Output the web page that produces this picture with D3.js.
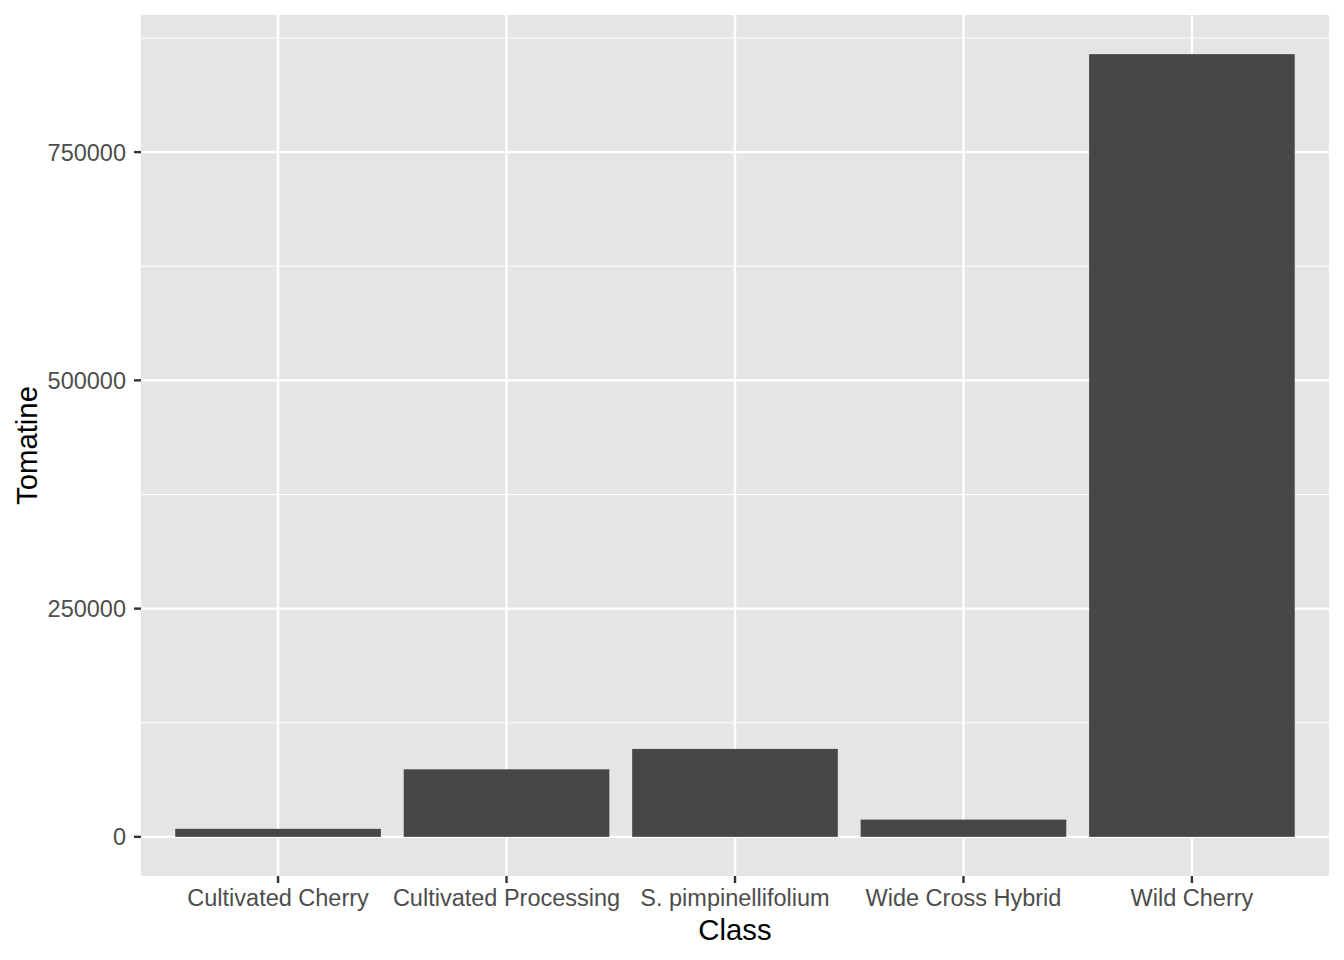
<!DOCTYPE html>
<html><head><meta charset="utf-8">
<script src="https://cdn.jsdelivr.net/npm/d3@7"></script>
<style>body{margin:0;background:#fff;} text{font-family:"Liberation Sans",Arial,Helvetica,sans-serif;}</style>
</head><body><svg id="c" width="1344" height="960"></svg>
<script>
const categories = ["Cultivated Cherry","Cultivated Processing","S. pimpinellifolium","Wide Cross Hybrid","Wild Cherry"];
const tomatine = [8760, 74000, 96300, 18900, 857300];
const yTicks = [0, 250000, 500000, 750000];
const yMinor = [125000, 375000, 625000, 875000];
const xTitle = "Class", yTitle = "Tomatine";

const svg = d3.select("#c");
const L = 141, R = 1329, T = 15, B = 876;
const yMax = d3.max(tomatine), pad = yMax * 0.05;
const y = d3.scaleLinear().domain([-pad, yMax + pad]).range([B, T]);
// discrete scale with ggplot-style expansion of 0.6 units on each side
const step = (R - L) / (categories.length - 1 + 1.2);
const xPos = d3.scalePoint().domain(categories).range([L + 0.6*step, R - 0.6*step]);
const bw = 0.9*step;

svg.append("rect").attr("x",L).attr("y",T).attr("width",R-L).attr("height",B-T).attr("fill","#E5E5E5");
const g = svg.append("g");
g.selectAll(".ymin").data(yMinor).join("line").attr("x1",L).attr("x2",R)
  .attr("y1",d=>y(d)).attr("y2",d=>y(d)).attr("stroke","#fff").attr("stroke-width",1.2);
g.selectAll(".ymaj").data(yTicks).join("line").attr("x1",L).attr("x2",R)
  .attr("y1",d=>y(d)).attr("y2",d=>y(d)).attr("stroke","#fff").attr("stroke-width",2.4);
g.selectAll(".xmaj").data(categories).join("line").attr("y1",T).attr("y2",B)
  .attr("x1",d=>xPos(d)).attr("x2",d=>xPos(d)).attr("stroke","#fff").attr("stroke-width",2.4);

svg.selectAll(".bar").data(categories).join("rect")
  .attr("x",d=>xPos(d)-bw/2).attr("width",bw)
  .attr("y",(d,i)=>y(tomatine[i])).attr("height",(d,i)=>y(0)-y(tomatine[i]))
  .attr("fill","#474747");

// y axis
const ya = svg.append("g");
ya.selectAll("line").data(yTicks).join("line").attr("x1",L-7).attr("x2",L)
  .attr("y1",d=>y(d)).attr("y2",d=>y(d)).attr("stroke","#333").attr("stroke-width",2.4);
ya.selectAll("text").data(yTicks).join("text").attr("x",L-15).attr("y",d=>y(d)).attr("dy","0.36em")
  .attr("text-anchor","end").attr("font-size",23.5).attr("fill","#4D4D4D").text(d=>d);
// x axis
const xa = svg.append("g");
xa.selectAll("line").data(categories).join("line").attr("x1",d=>xPos(d)).attr("x2",d=>xPos(d))
  .attr("y1",B).attr("y2",B+7).attr("stroke","#333").attr("stroke-width",2.4);
xa.selectAll("text").data(categories).join("text").attr("x",d=>xPos(d)).attr("y",906)
  .attr("text-anchor","middle").attr("font-size",23.5).attr("fill","#4D4D4D").text(d=>d);

svg.append("text").attr("x",(L+R)/2).attr("y",940).attr("text-anchor","middle")
  .attr("font-size",29.3).attr("fill","#000").text(xTitle);
svg.append("text").attr("transform",`translate(37,${(T+B)/2}) rotate(-90)`).attr("text-anchor","middle")
  .attr("font-size",29.3).attr("fill","#000").text(yTitle);
</script></body></html>
